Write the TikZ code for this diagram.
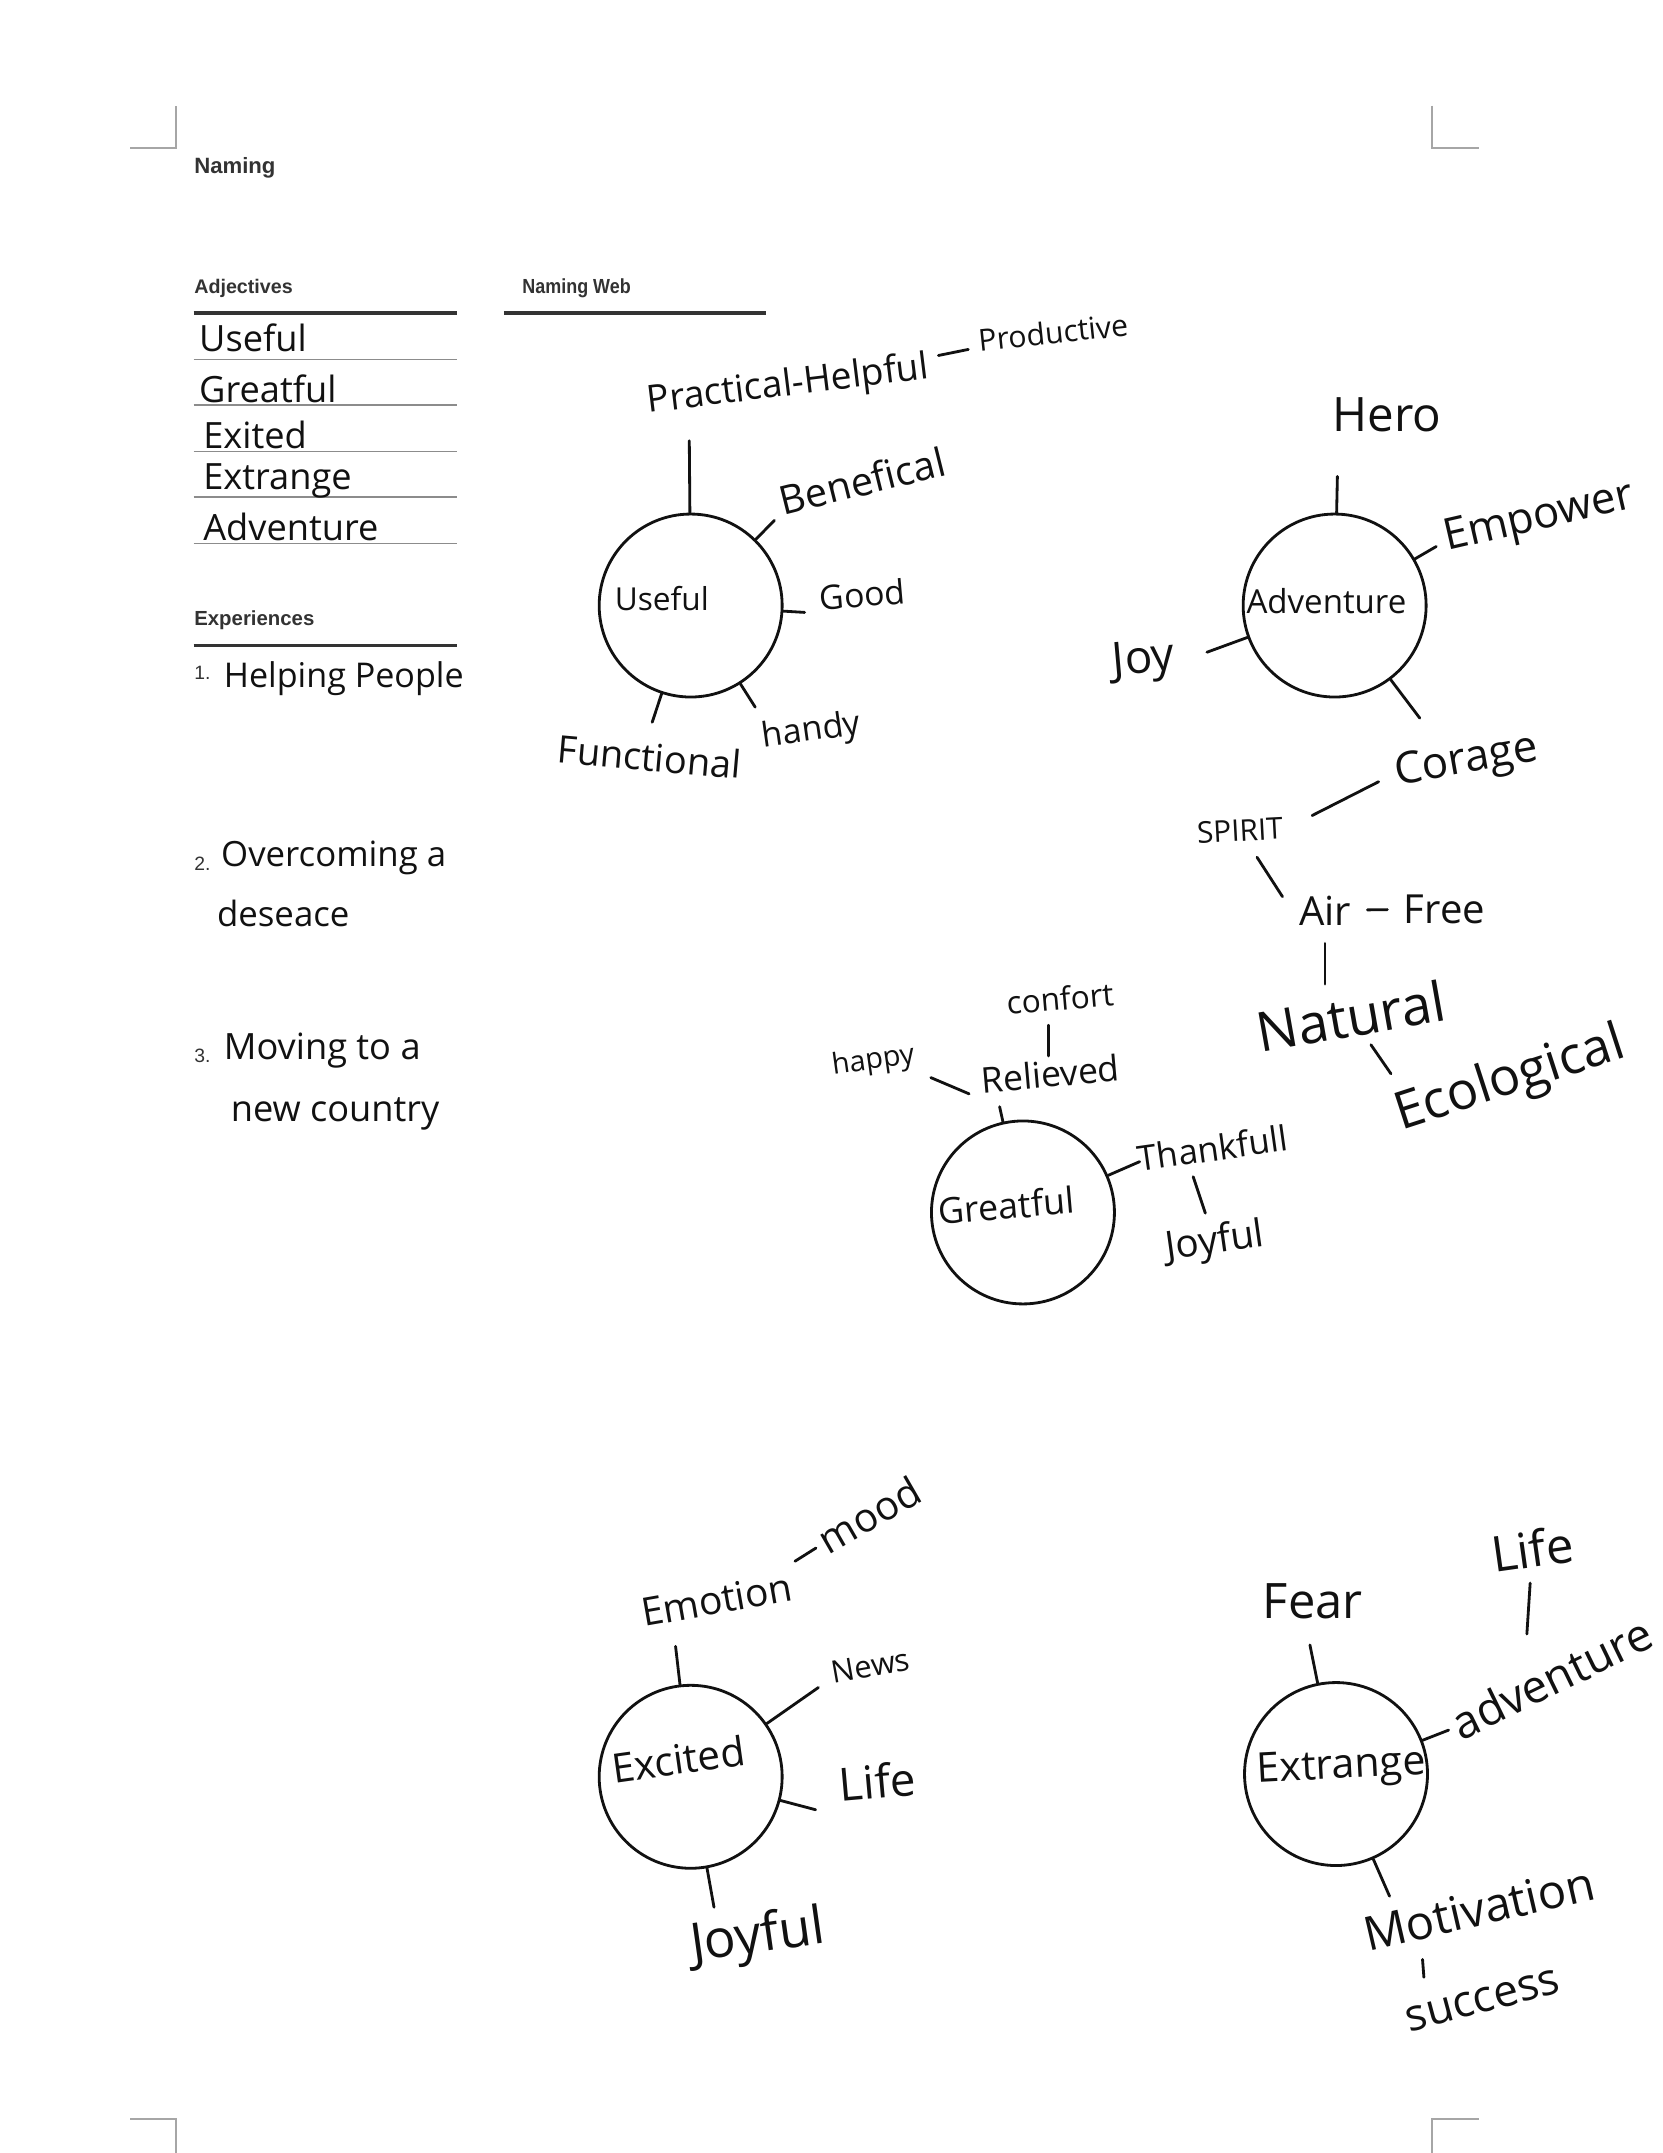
\documentclass[tikz,border=0pt]{standalone}
\usepackage{fontspec}
\setmainfont{Liberation Sans}
\newfontfamily\hand{Open Sans}
\newfontfamily\narrowsans[FakeStretch=0.88]{Liberation Sans}
\definecolor{inkblack}{HTML}{111111}
\definecolor{headgray}{HTML}{333333}
\definecolor{rulegray}{HTML}{8C8C8C}
\definecolor{markgray}{HTML}{A6A6A6}

\begin{document}
\begin{tikzpicture}[
    x=0.013733cm, y=-0.013733cm,
    head/.style={font=\bfseries\fontsize{#1}{#1}\selectfont, text=headgray, anchor=west, inner sep=0pt},
    headnarrow/.style={font=\narrowsans\bfseries\fontsize{#1}{#1}\selectfont, text=headgray, anchor=west, inner sep=0pt},
    num/.style={font=\fontsize{5.5}{5.5}\selectfont, text=headgray, anchor=west, inner sep=0pt},
    hw/.style={font=\hand\fontsize{#1}{#1}\selectfont, text=inkblack, inner sep=1pt},
    bubble/.style={draw=inkblack, circle, line width=0.8pt, minimum size=1.83cm, inner sep=0pt},
    tick/.style={draw=inkblack, line width=0.8pt, line cap=round},
    rulethick/.style={draw=headgray, line width=0.9pt},
    rulethin/.style={draw=rulegray, line width=0.4pt},
    cropmark/.style={draw=markgray, line width=0.6pt},
]
\fill[white] (0,0) rectangle (1211,1568);
\useasboundingbox (0,0) rectangle (1211,1568);

% crop marks
\draw[cropmark] (95,108) -- (128,108) -- (128,77);
\draw[cropmark] (1043,77) -- (1043,108) -- (1077,108);
\draw[cropmark] (95,1543) -- (128,1543) -- (128,1568);
\draw[cropmark] (1043,1568) -- (1043,1543) -- (1077,1543);

% left column
\node[head=6.3] (naming) at (141,122) {Naming};
\node[head=5.6] (adjectives) at (141,210) {Adjectives};
\draw[rulethick] (141,228) -- (333,228);
\foreach \y in {262,295,329,362,396}
    \draw[rulethin] (141,\y) -- (333,\y);
\node[hw=10.3, anchor=west] (adj1) at (142,246) {Useful};
\node[hw=10.3, anchor=west] (adj2) at (142,283) {Greatful};
\node[hw=10.3, anchor=west] (adj3) at (145,317) {Exited};
\node[hw=10.3, anchor=west] (adj4) at (145,350) {Extrange};
\node[hw=10.3, anchor=west] (adj5) at (145,384) {Adventure};

\node[head=5.8] (experiences) at (141,452) {Experiences};
\draw[rulethick] (141,470) -- (333,470);
\node[num] (n1) at (141,490) {1.};
\node[hw=9.7, anchor=west] (exp1) at (160,494) {Helping People};
\node[num] (n2) at (141,629) {2.};
\node[hw=9.9, anchor=west] (exp2a) at (158,625) {Overcoming a};
\node[hw=9.9, anchor=west] (exp2b) at (155,665) {deseace};
\node[num] (n3) at (141,769) {3.};
\node[hw=10.3, anchor=west] (exp3a) at (160,765) {Moving to a};
\node[hw=10.3, anchor=west] (exp3b) at (165,811) {new country};

\node[headnarrow=5.8] (webtitle) at (380,210) {Naming Web};
\draw[rulethick] (367,228) -- (558,228);

% Useful web
\node[bubble] (useful) at (503,441) {};
\node[hw=9] (useful-t) at (482,436) {Useful};
\node[hw=10.6, rotate=7] (practical) at (574,281) {Practical-Helpful};
\node[hw=8.6, rotate=6] (productive) at (767,242) {Productive};
\node[hw=11.3, rotate=14] (benefical) at (628,350) {Benefical};
\node[hw=9.6, rotate=5] (good) at (628,433) {Good};
\node[hw=9.7, rotate=8] (handy) at (591,533) {handy};
\node[hw=10.8, rotate=-5] (functional) at (473,551) {Functional};
\coordinate (u-pr) at (502,321);
\coordinate (u-be) at (564,379);
\coordinate (u-go) at (586,446);
\coordinate (u-ha) at (550,515);
\coordinate (u-fu) at (475,526);
\foreach \t in {u-pr,u-be,u-go,u-ha,u-fu}
    \draw[tick] (useful) -- (\t);
\draw[tick, shorten <=2pt, shorten >=2pt] (practical) -- (productive);

% Adventure web
\node[bubble] (adventure) at (972,441) {};
\node[hw=9.4] (adventure-t) at (966,438) {Adventure};
\node[hw=13.5] (hero) at (1010,302) {Hero};
\node[hw=12.4, rotate=13] (empower) at (1121,378) {Empower};
\node[hw=13, rotate=5] (joy) at (833,482) {Joy};
\node[hw=12.5, rotate=10] (corage) at (1068,555) {Corage};
\node[hw=8.5, rotate=3] (spirit) at (903,605) {SPIRIT};
\node[hw=11.4] (air) at (965,663) {Air};
\node[hw=11.4] (free) at (1052,662) {Free};
\node[hw=15.6, rotate=10] (natural) at (984,740) {Natural};
\node[hw=14.8, rotate=18] (ecological) at (1100,787) {Ecological};
\coordinate (a-he) at (974,347);
\coordinate (a-em) at (1046,398);
\coordinate (a-jo) at (879,475);
\coordinate (a-co) at (1034,523);
\foreach \t in {a-he,a-em,a-jo,a-co}
    \draw[tick] (adventure) -- (\t);
\coordinate (sp-ai) at (934,653);
\coordinate (na-ec) at (1013,782);
\draw[tick, shorten <=8pt, shorten >=4pt] (spirit.east) -- (corage.west);
\draw[tick, shorten <=4pt] (spirit) -- (sp-ai);
\draw[tick, shorten <=3.5pt, shorten >=3.5pt] (air) -- (free);
\draw[tick, shorten <=4pt, shorten >=2pt] (air.south) -- (air.south |- natural.north);
\draw[tick, shorten <=2pt] (natural) -- (na-ec);

% Greatful web
\node[bubble] (greatful) at (745,883) {};
\node[hw=10.2, rotate=5] (greatful-t) at (733,878) {Greatful};
\node[hw=10.1, rotate=5] (relieved) at (765,782) {Relieved};
\node[hw=9, rotate=5] (confort) at (772,727) {confort};
\node[hw=8.2, rotate=8] (happy) at (636,773) {happy};
\node[hw=9.9, rotate=8] (thankfull) at (883,836) {Thankfull};
\node[hw=11, rotate=8] (joyful) at (885,905) {Joyful};
\coordinate (g-re) at (728,806);
\coordinate (g-th) at (830,846);
\coordinate (th-jo) at (869,857);
\draw[tick] (greatful) -- (g-re);
\draw[tick] (greatful) -- (g-th);
\draw[tick, shorten >=3pt] (relieved.north) -- (relieved.north |- confort.south);
\draw[tick, shorten <=3pt, shorten >=3pt] (happy.south east) -- (relieved.south west);
\draw[tick, shorten <=2pt] (joyful) -- (th-jo);

% Excited web
\node[bubble] (excited) at (503,1294) {};
\node[hw=11.5, rotate=8] (excited-t) at (494,1281) {Excited};
\node[hw=11.1, rotate=10] (emotion) at (522,1165) {Emotion};
\node[hw=11.4, rotate=30] (mood) at (633,1103) {mood};
\node[hw=8.8, rotate=10] (news) at (634,1213) {News};
\node[hw=13, rotate=5] (elife) at (639,1297) {Life};
\node[hw=15, rotate=8] (ejoyful) at (552,1412) {Joyful};
\coordinate (e-em) at (492,1199);
\coordinate (e-ne) at (596,1229);
\coordinate (e-li) at (594,1318);
\coordinate (e-jo) at (520,1389);
\coordinate (em-mo) at (579,1137);
\foreach \t in {e-em,e-ne,e-li,e-jo}
    \draw[tick] (excited) -- (\t);
\draw[tick, shorten <=1pt] (mood) -- (em-mo);

% Extrange web
\node[bubble] (extrange) at (973,1292) {};
\node[hw=11.7, rotate=3] (extrange-t) at (977,1288) {Extrange};
\node[hw=13.9] (fear) at (956,1166) {Fear};
\node[hw=13, rotate=26] (xadventure) at (1130,1222) {adventure};
\node[hw=14, rotate=8] (xlife) at (1116,1128) {Life};
\node[hw=13.4, rotate=13] (motivation) at (1077,1390) {Motivation};
\node[hw=12.6, rotate=15] (success) at (1080,1457) {success};
\coordinate (x-fe) at (954,1198);
\coordinate (x-ad) at (1055,1260);
\coordinate (x-mo) at (1012,1381);
\foreach \t in {x-fe,x-ad,x-mo}
    \draw[tick] (extrange) -- (\t);
\coordinate (li-ad) at (1112,1190);
\coordinate (mo-a) at (1036,1427);
\coordinate (mo-b) at (1037,1440);
\draw[tick, shorten <=3pt] (xlife) -- (li-ad);
\draw[tick] (mo-a) -- (mo-b);
\end{tikzpicture}
\end{document}
